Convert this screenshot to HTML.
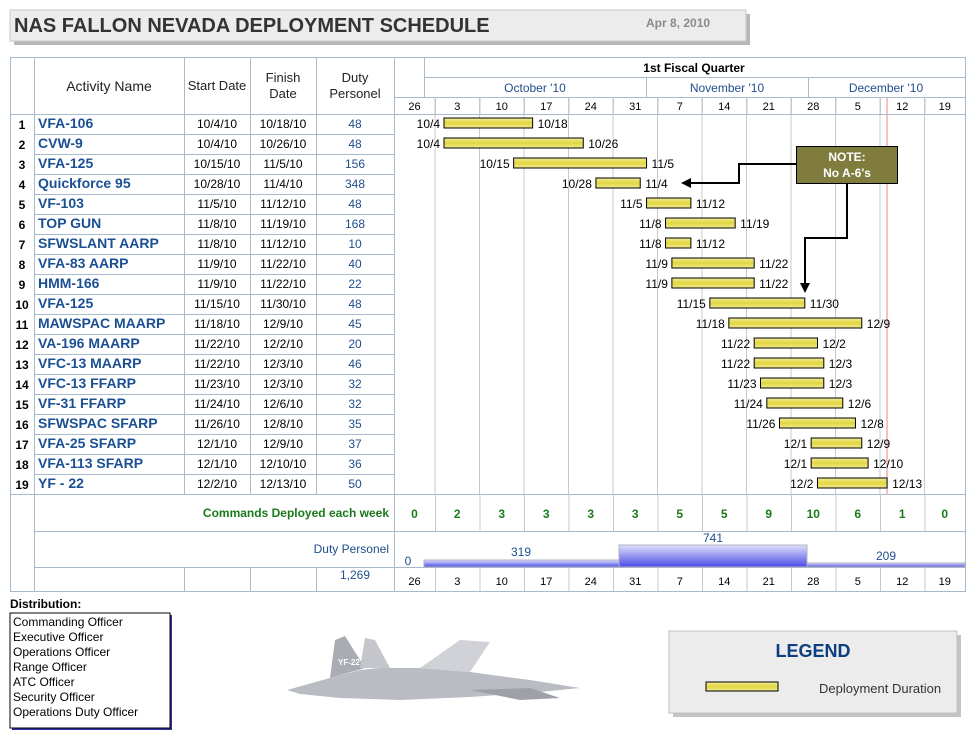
<!DOCTYPE html>
<html><head><meta charset="utf-8"><style>
body{margin:0;background:#fff;}
svg{display:block;font-family:"Liberation Sans",Arial,sans-serif;}
</style></head><body>
<svg id="s" width="976" height="743" viewBox="0 0 976 743" xmlns="http://www.w3.org/2000/svg">
<defs>
<linearGradient id="yb" x1="0" y1="0" x2="0" y2="1"><stop offset="0" stop-color="#f3ee9a"/><stop offset="0.5" stop-color="#e2d640"/><stop offset="1" stop-color="#f0ea90"/></linearGradient>
<linearGradient id="bb" x1="0" y1="0" x2="0" y2="1"><stop offset="0" stop-color="#e0e0fb"/><stop offset="1" stop-color="#4a4ae8"/></linearGradient>
</defs>
<!-- title -->
<rect x="14" y="14" width="736" height="31" fill="#b8b8b8"/>
<rect x="10" y="10" width="736" height="31" fill="#ececec" stroke="#c8c8c8"/>
<text x="14" y="32" font-size="20" font-weight="bold" fill="#333">NAS FALLON NEVADA DEPLOYMENT SCHEDULE</text>
<text x="646" y="27" font-size="12" font-weight="bold" fill="#8a8a8a">Apr 8, 2010</text>
<g id="g"></g>
<!-- distribution -->
<text x="10" y="608" font-size="12" font-weight="bold" fill="#000">Distribution:</text>
<rect x="12" y="615" width="160" height="115" fill="#3030a0"/>
<rect x="10" y="613" width="160" height="115" fill="#fff" stroke="#000"/>
<g font-size="12" fill="#000">
<text x="13" y="626">Commanding Officer</text><text x="13" y="641">Executive Officer</text><text x="13" y="656">Operations Officer</text><text x="13" y="671">Range Officer</text><text x="13" y="686">ATC Officer</text><text x="13" y="701">Security Officer</text><text x="13" y="716">Operations Duty Officer</text>
</g>
<!-- plane -->
<g>
<polygon points="287,690 330,678 360,670 380,668 420,668 470,672 530,680 580,688 540,692 470,697 400,700 340,698 300,694" fill="#b9bcc3"/>
<polygon points="330,678 335,640 345,636 365,668" fill="#a9acb3"/>
<polygon points="360,668 365,638 375,640 390,668" fill="#c4c6cc"/>
<polygon points="420,668 460,640 490,642 470,672" fill="#d0d2d8"/>
<polygon points="470,690 520,700 560,698 530,688" fill="#9ea1a8"/>
<text x="338" y="665" font-size="8" fill="#fff" font-weight="bold">YF-22</text>
</g>
<!-- legend -->
<rect x="673" y="635" width="288" height="82" fill="#c4c4c4"/>
<rect x="669" y="631" width="288" height="82" fill="#ececec" stroke="#c0c0c0"/>
<text x="813" y="657" font-size="18" font-weight="bold" fill="#0b3f82" text-anchor="middle">LEGEND</text>
<rect x="706" y="682" width="72" height="9" fill="url(#yb)" stroke="#000"/>
<text x="819" y="693" font-size="13" fill="#333">Deployment  Duration</text>
</svg>
<script>
var g=document.getElementById('g'),h='';
function L(x1,y1,x2,y2,c,w){h+='<line x1="'+x1+'" y1="'+y1+'" x2="'+x2+'" y2="'+y2+'" stroke="'+(c||'#a9bacb')+'" stroke-width="'+(w||1)+'"/>';}
function T(x,y,t,o){o=o||{};h+='<text x="'+x+'" y="'+y+'" font-size="'+(o.s||12)+'" fill="'+(o.c||'#000')+'"'+(o.b?' font-weight="bold"':'')+' text-anchor="'+(o.a||'middle')+'">'+t+'</text>';}
var cols=[394,435,479.5,524,568.5,613,657.5,702,746.5,791,835.5,880,924.5,965];
var wk=['26','3','10','17','24','31','7','14','21','28','5','12','19'];
// gantt vertical gridlines
for(var i=1;i<13;i++)L(cols[i],97,cols[i],494,'#c8c8c8');
L(887,97,887,494,'#f08080');
// outer and left table
h+='<rect x="10.5" y="57.5" width="955" height="534" fill="none" stroke="#a9bacb"/>';
[34,184,250,316].forEach(function(x){L(x+.5,57,x+.5,494)});
L(394.5,57,394.5,591);L(34.5,494,34.5,591);
L(424.5,57,424.5,97);L(424,77.5,965,77.5);L(394,97.5,965,97.5);L(646.5,77,646.5,97);L(808.5,77,808.5,97);
L(10,114.5,965,114.5);
for(var r=1;r<19;r++)L(34,114.5+r*20,394,114.5+r*20);
L(10,494.5,965,494.5);L(34,531.5,965,531.5);L(34,567.5,965,567.5);
for(var i=1;i<13;i++){L(cols[i]+.5,97,cols[i]+.5,114,'#c8c8c8');L(cols[i]+.5,494,cols[i]+.5,531,'#c8c8c8');L(cols[i]+.5,567,cols[i]+.5,591,'#c8c8c8');}
[184,250,316].forEach(function(x){L(x+.5,567,x+.5,591)});
// headers
T(109,91,'Activity Name',{s:14,c:'#222'});T(217,90,'Start Date',{s:13,c:'#222'});
T(283,82,'Finish',{s:13,c:'#222'});T(283,98,'Date',{s:13,c:'#222'});
T(355,82,'Duty',{s:13,c:'#222'});T(355,98,'Personel',{s:13,c:'#222'});
T(694,72,'1st Fiscal Quarter',{b:1});
T(535,92,'October \'10',{c:'#1f4e8c'});T(727,92,'November \'10',{c:'#1f4e8c'});T(886,92,'December \'10',{c:'#1f4e8c'});
for(var i=0;i<13;i++){var cx=(cols[i]+cols[i+1])/2;T(cx,110,wk[i],{s:11});T(cx,585,wk[i],{s:11});}
var rows=[['VFA-106','10/4/10','10/18/10','48'],['CVW-9','10/4/10','10/26/10','48'],['VFA-125','10/15/10','11/5/10','156'],['Quickforce 95','10/28/10','11/4/10','348'],['VF-103','11/5/10','11/12/10','48'],['TOP GUN','11/8/10','11/19/10','168'],['SFWSLANT AARP','11/8/10','11/12/10','10'],['VFA-83 AARP','11/9/10','11/22/10','40'],['HMM-166','11/9/10','11/22/10','22'],['VFA-125','11/15/10','11/30/10','48'],['MAWSPAC MAARP','11/18/10','12/9/10','45'],['VA-196 MAARP','11/22/10','12/2/10','20'],['VFC-13 MAARP','11/22/10','12/3/10','46'],['VFC-13 FFARP','11/23/10','12/3/10','32'],['VF-31 FFARP','11/24/10','12/6/10','32'],['SFWSPAC SFARP','11/26/10','12/8/10','35'],['VFA-25 SFARP','12/1/10','12/9/10','37'],['VFA-113 SFARP','12/1/10','12/10/10','36'],['YF - 22','12/2/10','12/13/10','50']];
function dx(s){var p=s.split('/'),m=+p[0],d=+p[1];var n=m==10?d-4:m==11?27+d:57+d;return 444+n*6.33;}
function sh(s){var p=s.split('/');return p[0]+'/'+p[1];}
rows.forEach(function(r,i){var y=128+i*20;
T(22,y+1,i+1,{b:1});T(38,y,r[0],{s:14,b:1,c:'#1a4f94',a:'start'});
T(217,y,r[1]);T(283,y,r[2]);T(355,y,r[3],{c:'#1f4e8c'});
var x1=dx(r[1]),x2=dx(r[2]);
h+='<rect x="'+x1+'" y="'+(y-10)+'" width="'+(x2-x1)+'" height="10" fill="url(#yb)" stroke="#000"/>';
T(x1-4,y,sh(r[1]),{a:'end'});T(x2+5,y,sh(r[2]),{a:'start'});});
// note
h+='<polyline points="796,164 739,164 739,183 690,183" fill="none" stroke="#000" stroke-width="2"/><polygon points="681,183 691,178 691,188" fill="#000"/>';
h+='<polyline points="847,183 847,238 805,238 805,284" fill="none" stroke="#000" stroke-width="2"/><polygon points="805,293 800,283 810,283" fill="#000"/>';
h+='<rect x="796.5" y="146.5" width="101" height="37" fill="#7f7c3e" stroke="#000"/>';
T(847,161,'NOTE:',{b:1,c:'#fff'});T(847,177,"No A-6's",{b:1,c:'#fff'});
// commands
T(389,517,'Commands Deployed each week',{b:1,c:'#1a7a1a',a:'end'});
[0,2,3,3,3,3,5,5,9,10,6,1,0].forEach(function(v,i){T((cols[i]+cols[i+1])/2,518,v,{b:1,c:'#1a7a1a'});});
T(389,553,'Duty Personel',{c:'#1f4e8c',a:'end'});T(355,579,'1,269',{c:'#1f4e8c'});
h+='<rect x="424" y="560" width="195" height="7" fill="url(#bb)" stroke="#b0b0c0"/>';
h+='<rect x="619" y="545" width="188" height="22" fill="url(#bb)" stroke="#b0b0c0"/>';
h+='<rect x="807" y="563" width="158" height="4" fill="url(#bb)" stroke="#b0b0c0"/>';
T(408,565,'0',{c:'#1f4e8c'});T(521,556,'319',{c:'#1f4e8c'});T(713,542,'741',{c:'#1f4e8c'});T(886,560,'209',{c:'#1f4e8c'});
g.innerHTML=h;
</script>
</body></html>
